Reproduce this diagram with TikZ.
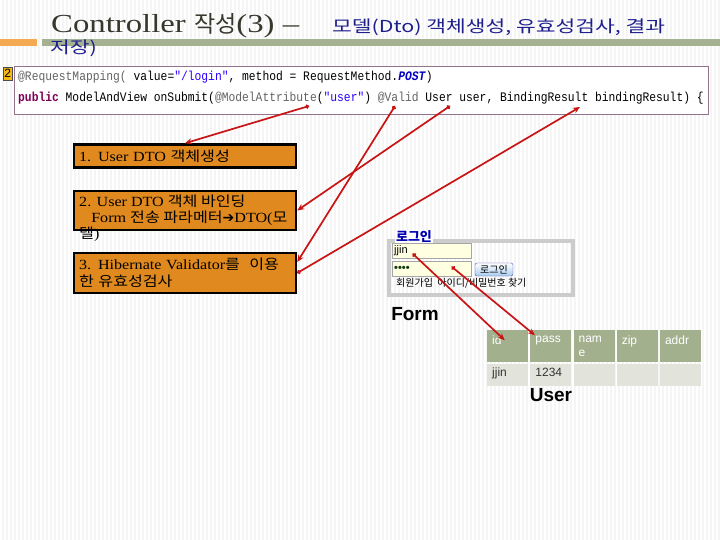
\documentclass[tikz,border=0pt]{standalone}
\usepackage{fontspec}
\setmainfont{Liberation Serif}
\setsansfont{Liberation Sans}
\newfontfamily\krfont{Noto Sans CJK KR}
\newfontfamily\krwide[FakeStretch=1.15]{Noto Sans CJK KR}
\newfontfamily\krsub[FakeStretch=1.3]{Noto Sans CJK KR}
\newfontfamily\titlefont[FakeStretch=1.26]{Liberation Serif}
\newfontfamily\stepfont[FakeStretch=1.15]{Liberation Serif}
\newfontfamily\codefont[FakeStretch=0.87]{Liberation Mono}
\newfontfamily\symfont{DejaVu Sans}
\newcommand{\ko}[1]{{\krfont #1}}
\newcommand{\kw}[1]{{\krwide #1}}
\usetikzlibrary{positioning,calc,arrows.meta}

\definecolor{boxorange}{RGB}{223,137,31}
\definecolor{arrowred}{RGB}{200,20,20}
\definecolor{bargreen}{RGB}{165,178,145}
\definecolor{barorange}{RGB}{244,170,82}
\definecolor{hdrgreen}{RGB}{163,176,142}
\definecolor{rowgray}{RGB}{226,228,220}
\definecolor{codeborder}{RGB}{150,115,140}
\definecolor{titleblue}{RGB}{30,30,140}
\definecolor{titlegray}{RGB}{55,55,45}
\definecolor{annogray}{RGB}{100,100,100}
\definecolor{strblue}{RGB}{42,0,255}
\definecolor{kwpurple}{RGB}{127,0,85}
\definecolor{constblue}{RGB}{0,0,192}
\definecolor{fieldyellow}{RGB}{255,255,225}
\definecolor{btnblue}{RGB}{170,205,240}
\definecolor{markyellow}{RGB}{245,185,20}
\definecolor{dotgreen}{RGB}{20,60,20}

\tikzset{
  stripe/.style={black!4, line width=1.5pt},
  stepbox/.style={draw=black, line width=2.5pt, fill=boxorange, text width=212pt, inner xsep=5pt, inner ysep=0pt, align=left, font=\stepfont\fontsize{14}{17}\selectfont},
  codeline/.style={anchor=base west, inner sep=0pt, font=\codefont\fontsize{13}{15}\selectfont},
  link/.style={draw=arrowred, line width=1.7pt, {Circle[length=4pt]}-{Stealth[length=7pt,width=6pt]}},
  field/.style={draw=gray!70, fill=fieldyellow, anchor=north west, text width=75pt, minimum height=15pt, inner sep=2pt, font=\sffamily\fontsize{11}{11}\selectfont},
  hcell/.style={fill=hdrgreen, anchor=north west, minimum width=41pt, minimum height=32pt, inner sep=0pt},
  rcell/.style={fill=rowgray, anchor=north west, minimum width=41pt, minimum height=22pt, inner sep=0pt},
  celltext/.style={anchor=north west, inner xsep=5pt, inner ysep=6pt, align=left, text=white, font=\sffamily\fontsize{12}{14}\selectfont},
  rowtext/.style={anchor=north west, inner xsep=5pt, inner ysep=4pt, text=black!80, font=\sffamily\fontsize{12}{14}\selectfont}
}

\begin{document}
\begin{tikzpicture}[x=1pt,y=-1pt]
\useasboundingbox (0,0) rectangle (720,540);
\foreach \x in {3,7,...,719} \draw[stripe] (\x,0) -- (\x,540);

\fill[barorange] (0,39) rectangle (37,46);
\fill[bargreen] (42,39) rectangle (720,46);
\node[anchor=base west, inner sep=0pt, text=titlegray, font=\titlefont\fontsize{26}{28}\selectfont] (title) at (51,33) {Controller {\krfont\fontsize{23}{28}\selectfont 작성}(3) –};
\node[anchor=base west, inner sep=0pt, text=titleblue, font=\krsub\fontsize{16.5}{20}\selectfont] (subtitle) at (332,33) {모델(Dto) 객체생성, 유효성검사, 결과};
\node[anchor=base west, inner sep=0pt, text=titleblue, font=\krsub\fontsize{16.5}{20}\selectfont] (subtitlewrap) at (50,54) {저장)};

\node[draw=codeborder, line width=1pt, fill=white, anchor=north west, minimum width=694pt, minimum height=48pt] (codebox) at (14,66) {};
\node[draw=black!70, fill=markyellow, anchor=north west, inner sep=0pt, minimum width=9pt, minimum height=13pt, font=\sffamily\fontsize{12}{12}\selectfont] (stepmark) at (3,67) {2};
\node[codeline] (codeA) at (18,81) {\textcolor{annogray}{@RequestMapping(} value=\textcolor{strblue}{"/login"}, method = RequestMethod.\textcolor{constblue}{\textbf{\textit{POST}}})};
\node[codeline] (codeB) at (18,102) {\textcolor{kwpurple}{\textbf{public}} ModelAndView onSubmit(\textcolor{annogray}{@ModelAttribute}(\textcolor{strblue}{"user"}) \textcolor{annogray}{@Valid} User user, BindingResult bindingResult) \{};
\coordinate (attrpt) at (309,106);
\coordinate (validpt) at (395,106);
\coordinate (userpt) at (450,106);
\coordinate (bresultpt) at (580,107);

\begin{scope}[every node/.style={stepbox}]
  \node[minimum height=23pt] (create) at (185,156) {1. User DTO \kw{객체생성}};
  \node[minimum height=39pt] (bind) at (185,210.5) {};
  \node[minimum height=40pt] (check) at (185,273) {3. Hibernate Validator\kw{를 \ 이용}\\\kw{한 유효성검사}};
\end{scope}
\node[anchor=north west, inner sep=0pt, align=left, font=\stepfont\fontsize{14}{16}\selectfont] (bindtext) at (79,195) {2. User DTO \kw{객체 바인딩}\\\ \ \ Form \kw{전송 파라메터}{\symfont ➔}DTO(\kw{모}\\\kw{델})};

\node[draw=gray!40, line width=3.5pt, anchor=north west, minimum width=184pt, minimum height=54pt] (login) at (387,239) {};
\node[fill=white, inner sep=1pt, text=blue!70!black, font=\krfont\bfseries\fontsize{13}{13}\selectfont] (logintitle) at (414,237) {로그인};
\node[field] (idfield) at (392,243) {jjin};
\node[field] (pwfield) at (392,261) {\textcolor{dotgreen}{\textbf{••••}}};
\node[draw=blue!40!gray, rounded corners=2pt, top color=white, bottom color=btnblue, minimum width=38pt, minimum height=13pt, inner sep=0pt, font=\krfont\fontsize{10}{10}\selectfont] (loginbtn) at (494,269.5) {로그인};
\node[anchor=west, inner sep=0pt, font=\krfont\fontsize{10}{10}\selectfont] (findlink) at (396,283) {회원가입 \ 아이디/비밀번호 찾기};
\node[font=\sffamily\bfseries\fontsize{19}{20}\selectfont] (formlbl) at (415,314) {Form};

\foreach \key/\head/\val [count=\i] in {id/id/jjin, pass/pass/1234, name/{nam\\e}/{}, zip/zip/{}, addr/addr/{}} {
  \pgfmathsetmacro{\cx}{487+43.2*(\i-1)}
  \node[hcell, label={[celltext]north west:\head}] (h\key) at (\cx,330) {};
  \node[rcell, label={[rowtext]north west:\val}] (r\key) at (\cx,364) {};
}
\node[font=\sffamily\bfseries\fontsize{19}{20}\selectfont] (userlbl) at (551,395) {User};

\begin{scope}[every edge/.style={link}]
  \draw (attrpt) edge (create.north);
  \draw (validpt) edge ($(check.east)+(0,-11)$);
  \draw (userpt) edge (bind.east);
  \draw (check.east) edge (bresultpt);
  \draw ($(idfield.center)+(-19,3)$) edge ($(hid.center)+(-3,-6)$);
  \draw ($(pwfield.center)+(20,-2)$) edge ($(hpass.center)+(-16,-11)$);
\end{scope}
\end{tikzpicture}
\end{document}
